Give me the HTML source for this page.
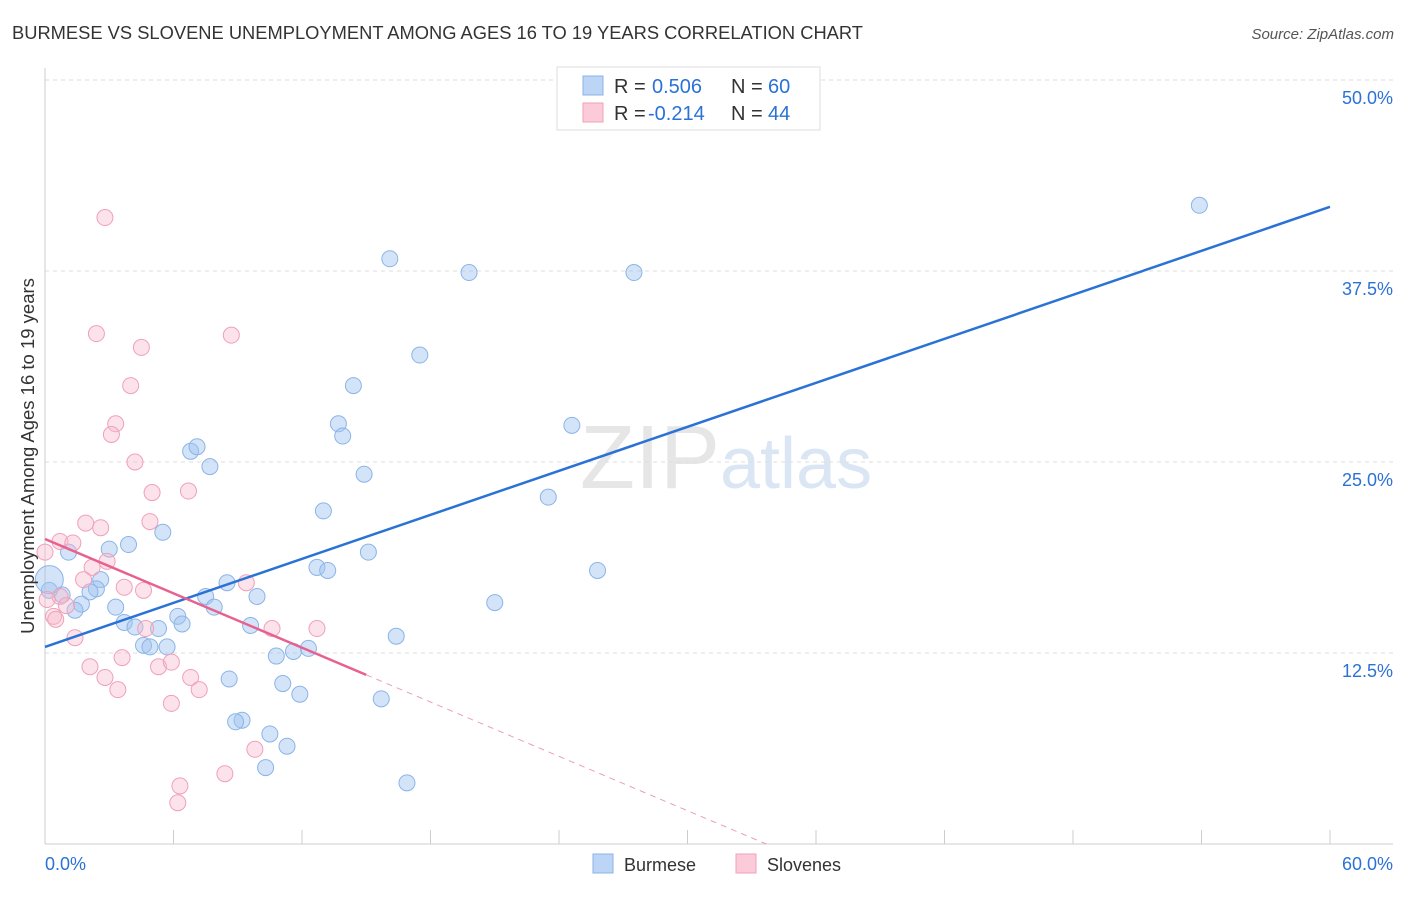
<!DOCTYPE html>
<html><head><meta charset="utf-8"><style>
body{margin:0;background:#fff;font-family:"Liberation Sans",sans-serif;}
svg text{font-family:"Liberation Sans",sans-serif;}
</style></head><body>
<svg id="chart" width="1406" height="892" xmlns="http://www.w3.org/2000/svg">
<text x="12" y="39" font-size="18" fill="#333" textLength="851" lengthAdjust="spacingAndGlyphs">BURMESE VS SLOVENE UNEMPLOYMENT AMONG AGES 16 TO 19 YEARS CORRELATION CHART</text>
<text x="1394" y="39" font-size="15" fill="#555" text-anchor="end" font-style="italic">Source: ZipAtlas.com</text>
<text x="720" y="488" font-size="90" fill="#e6e6e6" text-anchor="end" font-family="Liberation Serif">ZIP</text>
<text x="720" y="488" font-size="72" fill="#dbe6f5">atlas</text>
<g id="grid"></g>
<g id="axes"></g>
<g id="marks"></g>
<text transform="translate(34,456) rotate(-90)" font-size="18.5" fill="#333" text-anchor="middle">Unemployment Among Ages 16 to 19 years</text>
<g>
<rect x="557" y="67" width="263" height="63" fill="#fff" stroke="#ddd"/>
<rect x="583" y="76" width="20" height="19" fill="#bcd4f5" stroke="#8ab4e8"/>
<text x="614" y="93" font-size="20" fill="#333">R =</text>
<text x="652" y="93" font-size="20" fill="#2a72d6">0.506</text>
<text x="731" y="93" font-size="20" fill="#333">N =</text>
<text x="768" y="93" font-size="20" fill="#2a72d6">60</text>
<rect x="583" y="103" width="20" height="19" fill="#fbcbd9" stroke="#f0a0b8"/>
<text x="614" y="120" font-size="20" fill="#333">R =</text>
<text x="648" y="120" font-size="20" fill="#2a72d6">-0.214</text>
<text x="731" y="120" font-size="20" fill="#333">N =</text>
<text x="768" y="120" font-size="20" fill="#2a72d6">44</text>
</g>
<g>
<rect x="593" y="854" width="20" height="19" fill="#bcd4f5" stroke="#8ab4e8"/>
<text x="624" y="871" font-size="18" fill="#333">Burmese</text>
<rect x="736" y="854" width="20" height="19" fill="#fbcbd9" stroke="#f0a0b8"/>
<text x="767" y="871" font-size="18" fill="#333">Slovenes</text>
</g>
</svg>
<script>
const burmeseX=[53.9,16.1,19.8,27.5,17.5,14.4,13.7,24.6,13.9,6.8,7.1,7.7,14.9,23.5,13.0,5.5,3.9,3.0,1.1,15.1,12.7,13.2,25.8,2.6,8.5,2.4,7.5,9.9,2.1,0.8,0.2,1.7,1.4,21.0,3.3,7.9,6.2,6.4,3.7,4.2,5.3,9.6,4.6,4.9,5.7,16.4,12.3,11.6,10.8,8.6,11.1,11.9,15.7,9.2,8.9,10.5,11.3,10.3,16.9,0.2];
const burmeseY=[41.8,38.3,37.4,37.4,32.0,30.0,27.5,27.4,26.7,25.7,26.0,24.7,24.2,22.7,21.8,20.4,19.6,19.3,19.1,19.1,18.1,17.9,17.9,17.3,17.1,16.7,16.2,16.2,16.5,16.3,16.6,15.7,15.3,15.8,15.5,15.5,14.9,14.4,14.5,14.2,14.1,14.3,13.0,12.9,12.9,13.6,12.8,12.6,12.3,10.8,10.5,9.8,9.5,8.1,8.0,7.2,6.4,5.0,4.0,17.3];
const sloveneX=[2.8,2.4,8.7,4.5,4.0,3.3,3.1,4.2,5.0,6.7,4.9,1.9,2.6,0.7,1.3,0.0,2.9,2.2,1.8,3.7,4.6,9.4,0.7,1.0,0.1,0.4,0.5,4.7,10.6,12.7,1.4,2.1,3.6,5.3,5.9,2.8,6.8,3.4,7.2,5.9,9.8,8.4,6.3,6.2];
const sloveneY=[41.0,33.4,33.3,32.5,30.0,27.5,26.8,25.0,23.0,23.1,21.1,21.0,20.7,19.8,19.7,19.1,18.5,18.1,17.3,16.8,16.6,17.1,16.2,15.6,16.0,14.9,14.7,14.1,14.1,14.1,13.5,11.6,12.2,11.6,11.9,10.9,10.9,10.1,10.1,9.2,6.2,4.6,3.8,2.7];
const bigIdxB=59;
const burmeseFit=[12.9,41.7];
const sloveneFit=[19.96,-15.6];
const sloveneSolidEnd=15.0;
const yTicks=[12.5,25.0,37.5,50.0];
const xTickLabels=["0.0%","60.0%"];
const NS='http://www.w3.org/2000/svg';
const X=v=>45+v/60*1285, Y=v=>844-v/12.5*191;
function mk(p,t,a){const e=document.createElementNS(NS,t);for(const k in a)e.setAttribute(k,a[k]);document.getElementById(p).appendChild(e);return e;}
yTicks.forEach(t=>{
 const g=mk('grid','line',{x1:45,x2:1393,y1:Y(t),y2:Y(t),stroke:'#ddd','stroke-dasharray':'4,4'});
 
 
 const l=mk('grid','text',{x:1393,y:Y(t)+24,'font-size':18,fill:'#2a72d6','text-anchor':'end'});
 l.textContent=t.toFixed(1)+'%';
 
 
});
const ax=mk('axes','line',{x1:45,x2:1393,y1:844,y2:844,stroke:'#ccc'});


const ay=mk('axes','line',{x1:45,x2:45,y1:68,y2:844,stroke:'#ccc'});


for(let i=0;i<=10;i++){const t=mk('axes','line',{x1:X(i*6),x2:X(i*6),y1:830,y2:844,stroke:'#ccc'});
 
 }
[[0,'start',45],[1,'end',1393]].forEach(([i,a,x])=>{const l=mk('axes','text',{x:x,y:870,'font-size':18,fill:'#2a72d6','text-anchor':a});l.textContent=xTickLabels[i];
 
 });
burmeseX.forEach((x,i)=>{const c=mk('marks','circle',{cx:X(x),cy:Y(burmeseY[i]),r:i===bigIdxB?14:8,fill:'rgba(160,196,240,0.45)',stroke:'#8ab4e8','stroke-width':1});
 
 });
sloveneX.forEach((x,i)=>{const c=mk('marks','circle',{cx:X(x),cy:Y(sloveneY[i]),r:8,fill:'rgba(248,185,205,0.4)',stroke:'#f0a0b8','stroke-width':1});
 
 });
const bl=mk('marks','line',{x1:X(0),y1:Y(burmeseFit[0]),x2:X(60),y2:Y(burmeseFit[1]),stroke:'#2a72d6','stroke-width':2.5});


const sf=x=>sloveneFit[0]+(sloveneFit[1]-sloveneFit[0])*x/60;
const xz=-sloveneFit[0]/((sloveneFit[1]-sloveneFit[0])/60);
const sl=mk('marks','line',{x1:X(0),y1:Y(sf(0)),x2:X(sloveneSolidEnd),y2:Y(sf(sloveneSolidEnd)),stroke:'#e8608f','stroke-width':2.5});


const sd=mk('marks','line',{x1:X(sloveneSolidEnd),y1:Y(sf(sloveneSolidEnd)),x2:X(xz),y2:Y(0),stroke:'#e8a0b8','stroke-width':1,'stroke-dasharray':'6,5'});


</script>
</body></html>
